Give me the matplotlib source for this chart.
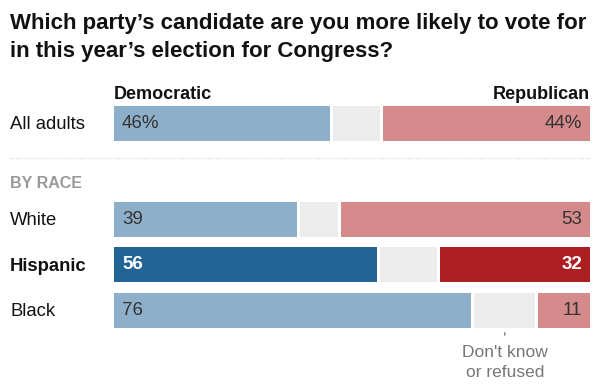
import numpy as np
import matplotlib.pyplot as plt
from matplotlib import transforms

# datos
grupos = ["All adults", "White", "Hispanic", "Black"]
democratas = [46, 39, 56, 76]
no_sabe = [10, 8, 12, 13]
republicanos = [44, 53, 32, 11]
etiquetas_dem = ["46%", "39", "56", "76"]
etiquetas_rep = ["44%", "53", "32", "11"]
destacado = ["Hispanic"]

titulo = ["Which party’s candidate are you more likely to vote for",
          "in this year’s election for Congress?"]

W, H = 600, 390
CUERPO = ["Liberation Sans", "DejaVu Sans"]

azul_claro, azul_oscuro = "#8eafca", "#236497"
rojo_claro, rojo_oscuro = "#d58a8c", "#ad1e23"
gris = "#ececec"

fig = plt.figure(figsize=(W / 100, H / 100), dpi=100)

# eje de barras: 0..100 % entre x=114 y x=590 px
izq, der, arriba, abajo = 114, 590, 106, 328
ax = fig.add_axes([izq / W, 1 - abajo / H, (der - izq) / W, (abajo - arriba) / H])
hueco = 3 / (der - izq - 6) * 100  # 3 px entre segmentos
ypos = np.array([0, 2.1, 3.1, 4.1])
alto = 0.77

for i, g in enumerate(grupos):
    fuerte = g in destacado
    c_dem = azul_oscuro if fuerte else azul_claro
    c_rep = rojo_oscuro if fuerte else rojo_claro
    d, n, r = democratas[i], no_sabe[i], republicanos[i]
    ax.barh(ypos[i], d, left=0, height=alto, color=c_dem, linewidth=0)
    ax.barh(ypos[i], n, left=d + hueco, height=alto, color=gris, linewidth=0)
    ax.barh(ypos[i], r, left=d + n + 2 * hueco, height=alto, color=c_rep, linewidth=0)
    col = "white" if fuerte else "#333333"
    peso = "bold" if fuerte else "normal"
    off = transforms.offset_copy(ax.transData, fig=fig, x=8 / 100 * 72, y=0, units="points")
    ax.text(0, ypos[i], etiquetas_dem[i], transform=off, ha="left", va="center",
            fontsize=13.5, color=col, fontweight=peso, family=CUERPO)
    off2 = transforms.offset_copy(ax.transData, fig=fig, x=-8 / 100 * 72, y=0, units="points")
    ax.text(100 + 2 * hueco, ypos[i], etiquetas_rep[i], transform=off2, ha="right", va="center",
            fontsize=13.5, color=col, fontweight=peso, family=CUERPO)
    # etiqueta de fila
    tr = transforms.blended_transform_factory(fig.transFigure, ax.transData)
    ax.text(10 / W, ypos[i] + 0.03, g, transform=tr, ha="left", va="center", fontsize=13.3,
            color="#111111", fontweight=peso, family=CUERPO)

ax.set_xlim(0, 100 + 2 * hueco)
ax.set_ylim(ypos[-1] + alto / 2, ypos[0] - alto / 2)
ax.axis("off")

# anotación "Don't know"
x_nd = democratas[-1] + hueco + no_sabe[-1] / 2
ax.annotate("", xy=(x_nd, ypos[-1] + alto / 2 + 0.04), xytext=(x_nd, ypos[-1] + alto / 2 + 0.22),
            arrowprops=dict(arrowstyle="-", color="#888888", lw=1), annotation_clip=False)
ax.text(x_nd, ypos[-1] + alto / 2 + 0.38, "Don't know\nor refused", ha="center", va="top",
        fontsize=12.5, color="#777777", linespacing=1.4, family=CUERPO)

# título: se ajusta el tamaño para que la primera línea ocupe de x=10 a x=588
renderer = fig.canvas.get_renderer()
t1 = fig.text(10 / W, 1 - 29 / H, titulo[0], ha="left", va="baseline", fontsize=16,
              fontweight="bold", family=CUERPO, color="#111111")
ancho = t1.get_window_extent(renderer).width
tam = 16 * 578 / ancho
t1.set_fontsize(tam)
fig.text(10 / W, 1 - 57 / H, titulo[1], ha="left", va="baseline", fontsize=tam,
         fontweight="bold", family=CUERPO, color="#111111")

fig.text(izq / W, 1 - 99 / H, "Democratic", ha="left", va="baseline", fontsize=13,
         fontweight="bold", family=CUERPO, color="#111111")
fig.text(der / W, 1 - 99 / H, "Republican", ha="right", va="baseline", fontsize=13,
         fontweight="bold", family=CUERPO, color="#111111")
fig.text(10 / W, 1 - 188 / H, "BY RACE", ha="left", va="baseline", fontsize=11.5,
         fontweight="bold", family=CUERPO, color="#999999")
fig.add_artist(plt.Line2D([10 / W, der / W], [1 - 158 / H, 1 - 158 / H], color="#dddddd",
                          lw=1, linestyle=(0, (1, 1)), transform=fig.transFigure))

fig.savefig("out.png", dpi=100)
